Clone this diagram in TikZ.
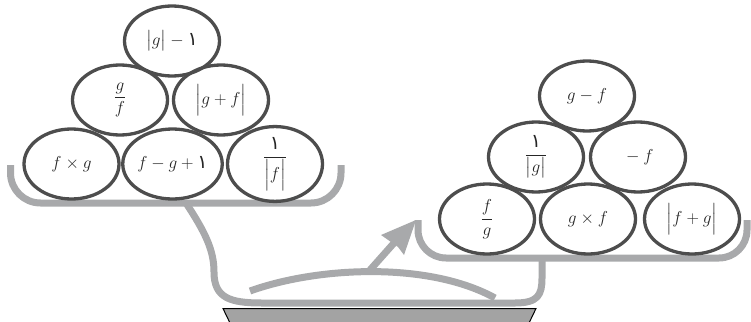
\documentclass[tikz,border=0pt]{standalone}
\usepackage{amsmath}
\usepackage{fontspec}
\newfontfamily\arabicfont[Script=Arabic]{DejaVu Sans}
\usetikzlibrary{shapes.geometric}
\newcommand{\aone}{\text{\arabicfont ١}}
\definecolor{pangray}{HTML}{A8A9AB}
\definecolor{ringgray}{HTML}{4D4D4D}
\definecolor{inkgray}{HTML}{262626}
\definecolor{plategray}{HTML}{A3A3A3}
\tikzset{
  ball/.style={ellipse, draw=ringgray, line width=3.3pt, minimum width=95pt, minimum height=70pt, inner sep=0pt, text=inkgray, font=\fontsize{19}{22}\selectfont},
  panline/.style={draw=pangray, line width=7pt, line join=round},
}
\begin{document}
\begin{tikzpicture}[x=1pt,y=-1pt]
\useasboundingbox (0,0) rectangle (751,321);
% base plate
\draw[fill=plategray, draw=black, line width=1pt] (223,308.5) -- (536,308.5) -- (529,323) -- (230,323) -- cycle;
% left pan
\draw[panline, rounded corners=30pt] (10.5,165) -- (10.5,203) -- (341,203) -- (341,165);
% right pan
\draw[panline, rounded corners=28pt] (418,220) -- (418,258) -- (747,258) -- (747,220);
% beam
\draw[panline] (186,203) .. controls (205,232) and (214,250) .. (214,272)
  .. controls (214,298) and (230,303) .. (262,303) -- (515,303)
  .. controls (538,303) and (542,295) .. (542,278) -- (542,258);
% curved arc
\draw[panline] (250,291) .. controls (320,266) and (430,262) .. (495,298);
% arrow
\coordinate (ashaft) at (370,270);
\coordinate (abase) at (394,243);
\draw[panline] (ashaft) -- (abase);
\fill[pangray] (416,220) -- (381,235) -- (391,242) -- (398,247) -- (404,255) -- cycle;
% left pyramid
\node[ball] (l1) at (71.5,164) {$f\times g$};
\node[ball] (l2) at (172.5,164) {$f-g+\aone$};
\node[ball] (l3) at (275,164) {$\dfrac{\aone}{\Bigl|f\Bigr|}$};
\node[ball] (l4) at (120,100) {$\dfrac{g}{f}$};
\node[ball] (l5) at (221,100) {$\Bigl|g+f\Bigr|$};
\node[ball] (l6) at (172,41) {$\bigl|g\bigr|-\aone$};
% right pyramid
\node[ball] (r1) at (487,219) {$\dfrac{f}{g}$};
\node[ball] (r2) at (588,219) {$g\times f$};
\node[ball] (r3) at (692,219) {$\Bigl|f+g\Bigr|$};
\node[ball] (r4) at (536,157) {$\dfrac{\aone}{\bigl|g\bigr|}$};
\node[ball] (r5) at (638,157) {${}-f$};
\node[ball] (r6) at (587,96) {$g-f$};
\end{tikzpicture}
\end{document}
